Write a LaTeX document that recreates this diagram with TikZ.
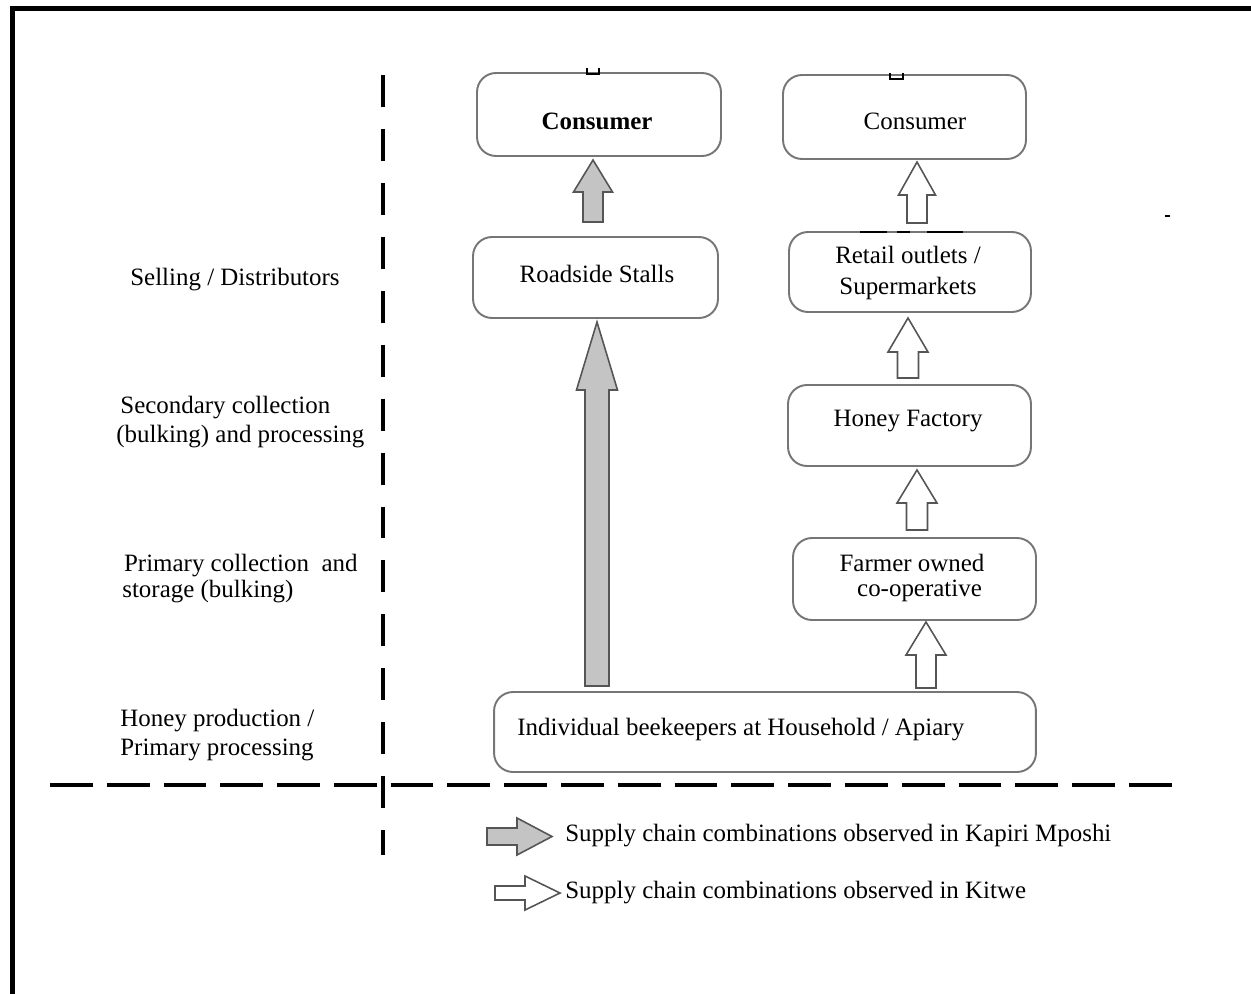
\documentclass[tikz,border=0pt]{standalone}
\usepackage{fontspec}
\setmainfont{Liberation Serif}
\definecolor{boxgray}{HTML}{767676}
\definecolor{arrgray}{HTML}{555555}
\definecolor{kapfill}{HTML}{C4C4C4}
% up-pointing block arrow: #1 style, #2 x centre, #3 y bottom, #4 y tip, #5 y head base, #6 shaft half width, #7 head half width
\newcommand\blockup[7]{\draw[#1] (#2-#6,#3) -- (#2-#6,#5) -- (#2-#7,#5) -- (#2,#4) -- (#2+#7,#5) -- (#2+#6,#5) -- (#2+#6,#3) -- cycle;}
% right-pointing block arrow: #1 style, #2 y centre, #3 x left, #4 x tip, #5 x head base, #6 shaft half, #7 head half
\newcommand\blockright[7]{\draw[#1] (#3,#2-#6) -- (#5,#2-#6) -- (#5,#2-#7) -- (#4,#2) -- (#5,#2+#7) -- (#5,#2+#6) -- (#3,#2+#6) -- cycle;}
\begin{document}
\begin{tikzpicture}[x=0.02cm,y=-0.02cm,
  txt/.style={font=\fontsize{14.2}{17}\selectfont, inner sep=0pt},
  box/.style={draw=boxgray, line width=1.1pt, rounded corners=0.38cm, inner sep=0pt},
  kap/.style={draw=arrgray, fill=kapfill, line width=0.9pt, line join=miter},
  kit/.style={draw=arrgray, fill=white, line width=0.9pt, line join=miter},
  vdashed/.style={line width=2.3pt, dash pattern=on 18.2pt off 12.5pt},
  hdashed/.style={line width=2.3pt, dash pattern=on 24.35pt off 7.97pt},
  tinymark/.style={line width=0.8pt, black}]
\useasboundingbox (0,0) rectangle (1251,994);
% frame
\draw[line width=2.85pt] (12.5,994) -- (12.5,8.5) -- (1251,8.5);

% separators
\draw[vdashed] (383,75) -- (383,855);
\draw[hdashed] (50,785) -- (1173,785);

% stage labels
\node[txt, anchor=west] (sel) at (130,280) {Selling / Distributors};
\node[txt, anchor=west, align=left] (sec) at (116,422) {\hspace{2.3pt}Secondary collection\\(bulking) and processing};
\node[txt, anchor=west, align=left, font=\fontsize{14.2}{14.8}\selectfont] (pri) at (122,579) {\hspace{1pt}Primary collection\ \ and\\storage (bulking)};
\node[txt, anchor=west, align=left, font=\fontsize{14.2}{16.5}\selectfont] (hon) at (120,735) {Honey production /\\Primary processing};

% boxes
\node[box, minimum width=4.88cm, minimum height=1.66cm] (c1) at (599,114.5) {};
\node[box, minimum width=4.86cm, minimum height=1.68cm] (c2) at (904.5,117) {};
\node[box, minimum width=4.9cm, minimum height=1.62cm] (rs) at (595.5,277.5) {};
\node[box, minimum width=4.84cm, minimum height=1.6cm] (ro) at (910,272) {};
\node[box, minimum width=4.86cm, minimum height=1.62cm] (hf) at (909.5,425.5) {};
\node[box, minimum width=4.86cm, minimum height=1.64cm] (fo) at (914.5,579) {};
\node[box, minimum width=10.84cm, minimum height=1.6cm] (ib) at (765,732) {};

% box texts
\node[txt] (c1t) at (597,121) {\bfseries Consumer};
\node[txt] (c2t) at (915,121) {Consumer};
\node[txt] (rst) at (597,274) {Roadside Stalls};
\node[txt, align=center, font=\fontsize{14.2}{17.5}\selectfont] (rot) at (908,273) {Retail outlets /\\Supermarkets};
\node[txt] (hft) at (908,421) {Honey Factory};
\node[txt, align=center, font=\fontsize{14.2}{14.5}\selectfont] (fot) at (912,578) {Farmer owned\\\hspace{0.3cm}co-operative};
\node[txt, anchor=west] (ibt) at (517,730) {Individual beekeepers at Household / Apiary};

% Kapiri Mposhi chain (grey arrows)
\blockup{kap}{593}{222}{160}{192}{10}{19.5}
\blockup{kap}{597}{686}{322}{390}{12}{20.5}
% Kitwe chain (white arrows)
\blockup{kit}{917}{223}{162}{195}{10}{18.5}
\blockup{kit}{908}{378}{318}{352}{10.5}{20}
\blockup{kit}{917}{530}{470}{503}{10.5}{20}
\blockup{kit}{926}{688}{622}{655}{10}{20}

% small marks
\draw[tinymark] (587,68) -- (587,74) -- (599,74) -- (599,68);
\draw[tinymark] (890,73) -- (890,79) -- (903,79) -- (903,73);
\draw[line width=1.3pt] (860,232) -- (887,232) (897,232) -- (910,232) (927,232) -- (963,232);
\draw[line width=1.2pt] (1165,216) -- (1170,216);

% legend
\blockright{kap}{836.5}{487}{552}{517}{8.5}{18.5}
\node[txt, anchor=west] (lk) at (565,836) {Supply chain combinations observed in Kapiri Mposhi};
\blockright{kit}{893}{495}{560}{525}{7}{17}
\node[txt, anchor=west] (lw) at (565,893) {Supply chain combinations observed in Kitwe};
\end{tikzpicture}
\end{document}
